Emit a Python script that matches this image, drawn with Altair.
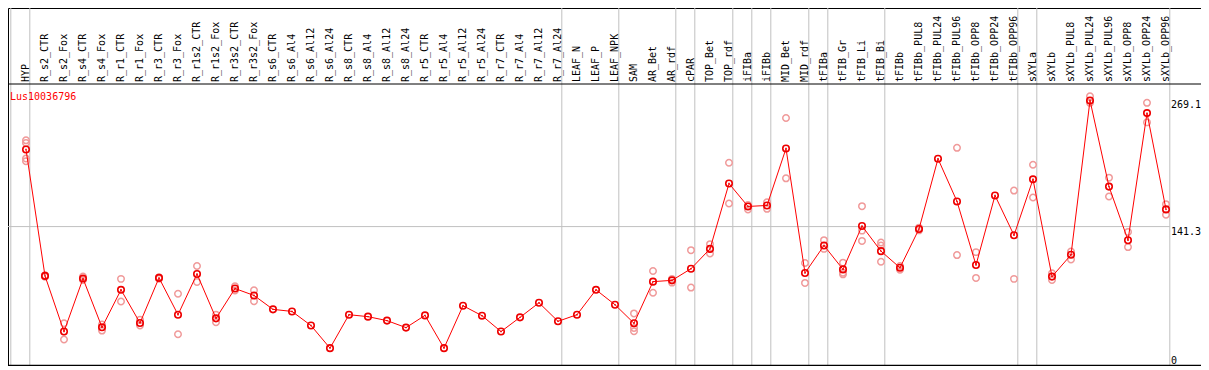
import altair as alt
import pandas as pd

gene = "Lus10036796"

categories = [
    "HYP", "R_s2_CTR", "R_s2_Fox", "R_s4_CTR", "R_s4_Fox", "R_r1_CTR", "R_r1_Fox",
    "R_r3_CTR", "R_r3_Fox", "R_r1s2_CTR", "R_r1s2_Fox", "R_r3s2_CTR", "R_r3s2_Fox",
    "R_s6_CTR", "R_s6_Al4", "R_s6_Al12", "R_s6_Al24", "R_s8_CTR", "R_s8_Al4",
    "R_s8_Al12", "R_s8_Al24", "R_r5_CTR", "R_r5_Al4", "R_r5_Al12", "R_r5_Al24",
    "R_r7_CTR", "R_r7_Al4", "R_r7_Al12", "R_r7_Al24", "LEAF_N", "LEAF_P", "LEAF_NPK",
    "SAM", "AR_Bet", "AR_rdf", "cPAR", "TOP_Bet", "TOP_rdf", "iFIBa", "iFIBb",
    "MID_Bet", "MID_rdf", "tFIBa", "tFIB_Gr", "tFIB_Li", "tFIB_Bi", "tFIBb",
    "tFIBb_PUL8", "tFIBb_PUL24", "tFIBb_PUL96", "tFIBb_OPP8", "tFIBb_OPP24",
    "tFIBb_OPP96", "sXYLa", "sXYLb", "sXYLb_PUL8", "sXYLb_PUL24", "sXYLb_PUL96",
    "sXYLb_OPP8", "sXYLb_OPP24", "sXYLb_OPP96",
]

means = [
    219.4, 91.3, 34.9, 88.6, 39.2, 77.2, 43.6, 89.3, 52.0, 93.3, 48.3, 78.5, 71.5,
    57.4, 55.3, 41.0, 18.1, 52.0, 50.0, 46.0, 38.9, 51.3, 18.1, 61.1, 51.0,
    34.9, 49.3, 64.1, 45.3, 52.0, 77.2, 62.1,
    43.3, 85.5, 86.8, 98.6, 118.7, 184.9, 161.7, 162.7,
    220.4, 94.3, 122.1, 97.9, 141.9, 116.4, 99.6,
    138.9, 210.0, 166.8, 102.3, 172.8, 132.5,
    189.2, 90.6, 112.7, 269.1, 181.8, 127.5, 256.3, 158.7,
]

rep_cats = [
    "HYP", "HYP", "HYP", "HYP",
    "R_s2_CTR", "R_s2_CTR", "R_s2_Fox", "R_s2_Fox", "R_s4_CTR", "R_s4_CTR",
    "R_s4_Fox", "R_s4_Fox", "R_r1_CTR", "R_r1_CTR", "R_r1_Fox", "R_r1_Fox",
    "R_r3_CTR", "R_r3_CTR", "R_r3_Fox", "R_r3_Fox", "R_r1s2_CTR", "R_r1s2_CTR",
    "R_r1s2_Fox", "R_r1s2_Fox", "R_r3s2_CTR", "R_r3s2_CTR", "R_r3s2_Fox", "R_r3s2_Fox",
    "SAM", "SAM", "SAM", "AR_Bet", "AR_Bet", "AR_rdf", "AR_rdf", "cPAR", "cPAR",
    "TOP_Bet", "TOP_Bet", "TOP_rdf", "TOP_rdf", "iFIBa", "iFIBa", "iFIBb", "iFIBb",
    "MID_Bet", "MID_Bet", "MID_rdf", "MID_rdf", "tFIBa", "tFIBa",
    "tFIB_Gr", "tFIB_Gr", "tFIB_Gr", "tFIB_Li", "tFIB_Li", "tFIB_Li",
    "tFIB_Bi", "tFIB_Bi", "tFIB_Bi", "tFIBb", "tFIBb",
    "tFIBb_PUL8", "tFIBb_PUL8", "tFIBb_PUL96", "tFIBb_PUL96", "tFIBb_OPP8", "tFIBb_OPP8",
    "tFIBb_OPP96", "tFIBb_OPP96", "sXYLa", "sXYLa", "sXYLb", "sXYLb",
    "sXYLb_PUL8", "sXYLb_PUL8", "sXYLb_PUL24", "sXYLb_PUL24", "sXYLb_PUL96", "sXYLb_PUL96",
    "sXYLb_OPP8", "sXYLb_OPP8", "sXYLb_OPP24", "sXYLb_OPP24", "sXYLb_OPP96", "sXYLb_OPP96",
]

rep_vals = [
    228.7, 226.1, 210.3, 207.6,
    92.0, 90.5, 43.3, 26.9, 90.6, 87.2,
    42.0, 35.9, 88.3, 65.4, 47.0, 41.0,
    90.0, 88.5, 73.2, 32.2, 101.3, 85.2,
    52.0, 44.3, 80.8, 76.5, 76.8, 65.7,
    53.3, 38.5, 35.2, 96.3, 74.2, 88.3, 84.5, 117.4, 79.5,
    123.5, 114.0, 206.0, 164.7, 163.3, 158.7, 166.0, 159.3,
    251.3, 190.2, 104.4, 84.2, 127.5, 118.7,
    104.7, 94.6, 92.9, 162.0, 137.2, 126.8,
    125.1, 122.1, 105.7, 97.6, 101.3,
    137.5, 140.2, 221.1, 112.4, 115.4, 89.3,
    177.8, 88.3, 204.0, 170.8, 93.9, 87.2,
    116.0, 108.0, 273.4, 266.7, 190.9, 171.8,
    135.9, 120.5, 266.7, 246.9, 164.0, 153.3,
]

group_ends = [
    "HYP", "R_r7_Al24", "LEAF_NPK", "AR_rdf", "cPAR", "TOP_rdf", "iFIBa", "iFIBb",
    "MID_rdf", "tFIBa", "tFIB_Bi", "tFIBb_OPP96", "sXYLa", "sXYLb_OPP96",
]

tick_values = [269.1, 141.3, 0.0]
tick_labels = ["269.1", "141.3", "0"]
grid_value = 141.3
plot_top_value = 285.8

# ---- layout ----
W, H = 1193, 358
header_px = 76
first_px, step_px = 18, 19
grid_off = 0.2
FONT = "DejaVu Sans Mono"

idx = {c: i for i, c in enumerate(categories)}
xdom = [-first_px / step_px, (W - first_px) / step_px]
ydom = [0, plot_top_value * H / (H - header_px)]
xs = alt.Scale(domain=xdom, nice=False, zero=False)
ys = alt.Scale(domain=ydom, nice=False, zero=False)

df_mean = pd.DataFrame({"cat": categories, "i": range(len(categories)), "v": means})
df_rep = pd.DataFrame({"cat": rep_cats, "i": [idx[c] for c in rep_cats], "v": rep_vals})
df_grid = pd.DataFrame({"g": [-1 + grid_off] + [idx[c] + grid_off for c in group_ends]})
df_h = pd.DataFrame({"v": [grid_value], "x0": [xdom[0]],
                     "x1": [idx[group_ends[-1]] + grid_off]})
df_ticks = pd.DataFrame({"v": tick_values, "lab": tick_labels})
df_gene = pd.DataFrame({"t": [gene]})

X = lambda f: alt.X(f, type="quantitative", scale=xs, axis=None)
Y = lambda f: alt.Y(f, type="quantitative", scale=ys, axis=None)

vgrid = alt.Chart(df_grid).mark_rule(color="#c0c0c0", strokeWidth=1).encode(
    x=X("g"), y=alt.value(0), y2=alt.value(H))
hgrid = alt.Chart(df_h).mark_rule(color="#c0c0c0", strokeWidth=1).encode(
    x=X("x0"), x2="x1:Q", y=Y("v"))
sep = alt.Chart(df_gene).mark_rule(color="black", strokeWidth=1).encode(
    x=alt.value(0), x2=alt.value(W), y=alt.value(header_px))
bottom = alt.Chart(df_gene).mark_rule(color="black", strokeWidth=1.5).encode(
    x=alt.value(0), x2=alt.value(W), y=alt.value(H - 0.5))

reps = alt.Chart(df_rep).mark_point(shape="circle", filled=False, color="#f09a9a",
                                    strokeWidth=1.5, size=42, opacity=1).encode(
    x=X("i"), y=Y("v"))
line = alt.Chart(df_mean).mark_line(color="#ff0000", strokeWidth=1).encode(
    x=X("i"), y=Y("v"))
mpts = alt.Chart(df_mean).mark_point(shape="circle", filled=False, color="#ee0000",
                                     strokeWidth=1.6, size=42, opacity=1).encode(
    x=X("i"), y=Y("v"))
mdot = alt.Chart(df_mean).mark_point(shape="square", filled=True, color="#ee0000",
                                     size=2, opacity=1).encode(
    x=X("i"), y=Y("v"))

labels = alt.Chart(df_mean).mark_text(angle=270, align="left", baseline="middle",
                                      font=FONT, fontSize=10, color="black").encode(
    x=X("i"), y=alt.value(header_px - 2), text="cat:N")
gene_t = alt.Chart(df_gene).mark_text(align="left", baseline="alphabetic", font=FONT,
                                      fontSize=10, color="#ff0000").encode(
    x=alt.value(2), y=alt.value(header_px + 16), text="t:N")

df_top = df_ticks[df_ticks["v"] > 0]
df_bot = df_ticks[df_ticks["v"] <= 0]
tick_top = alt.Chart(df_top).mark_text(align="left", baseline="top", font=FONT,
                                       fontSize=10, color="black").encode(
    x=alt.value(W - 30), y=Y("v"), text="lab:N")
tick_bot = alt.Chart(df_bot).mark_text(align="left", baseline="bottom", font=FONT,
                                       fontSize=10, color="black").encode(
    x=alt.value(W - 30), y=Y("v"), text="lab:N")

chart = alt.layer(vgrid, hgrid, sep, bottom, reps, line, mpts, mdot, labels, gene_t,
                  tick_top, tick_bot).properties(
    width=W, height=H, autosize=alt.AutoSizeParams(type="none"), padding=0
).configure_view(stroke="black", strokeWidth=1)

chart.save("out.html", embed_options={"renderer": "svg", "actions": False})
